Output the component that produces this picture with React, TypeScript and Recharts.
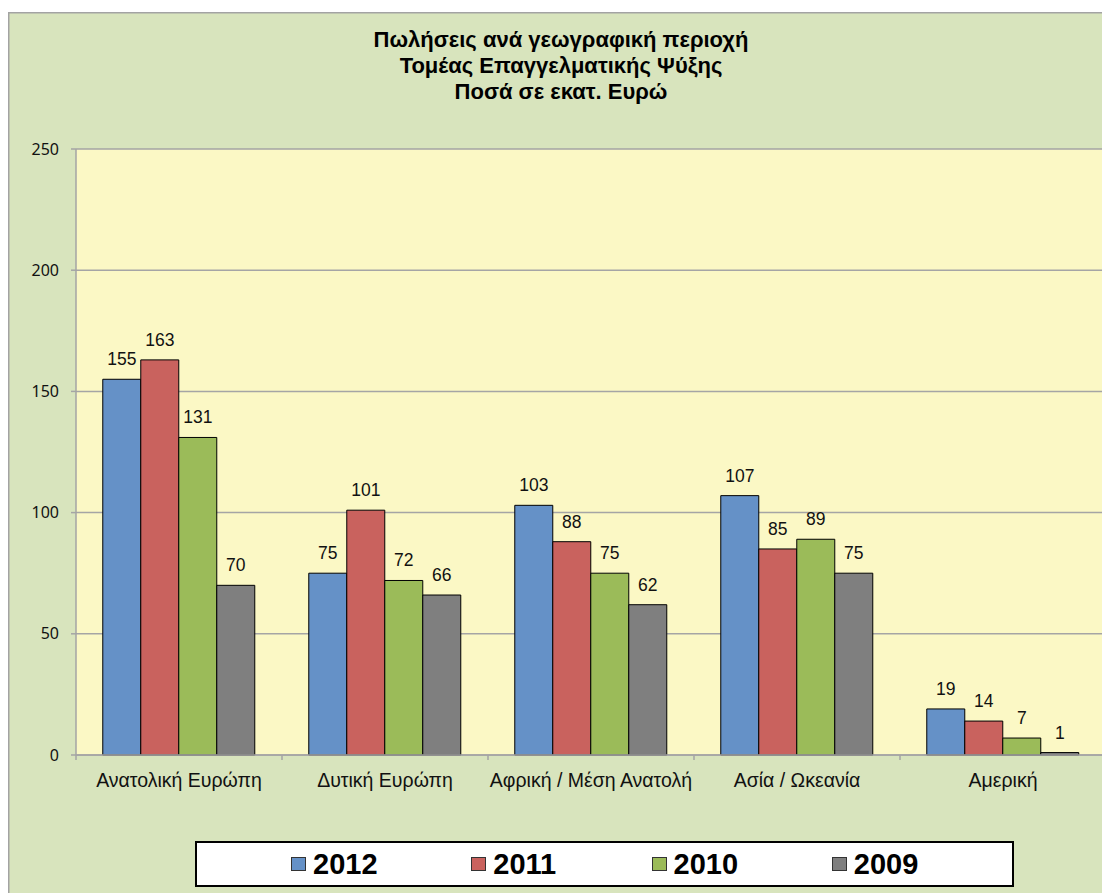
import React from 'react';
import { BarChart, Bar, XAxis, YAxis, CartesianGrid, Legend, LabelList } from 'recharts';

const titleLines = [
  'Πωλήσεις ανά γεωγραφική περιοχή',
  'Τομέας Επαγγελματικής Ψύξης',
  'Ποσά σε εκατ. Ευρώ',
];

const regions = ['Ανατολική Ευρώπη', 'Δυτική Ευρώπη', 'Αφρική / Μέση Ανατολή', 'Ασία / Ωκεανία', 'Αμερική'];
const sales2012 = [155, 75, 103, 107, 19];
const sales2011 = [163, 101, 88, 85, 14];
const sales2010 = [131, 72, 75, 89, 7];
const sales2009 = [70, 66, 62, 75, 1];
const yTicks = [0, 50, 100, 150, 200, 250];

const series = [
  { key: 'y2012', name: '2012', color: '#6591C7' },
  { key: 'y2011', name: '2011', color: '#C9625E' },
  { key: 'y2010', name: '2010', color: '#9BBB59' },
  { key: 'y2009', name: '2009', color: '#7F7F7F' },
];

const data = regions.map((region, i) => ({
  region,
  y2012: sales2012[i],
  y2011: sales2011[i],
  y2010: sales2010[i],
  y2009: sales2009[i],
}));

const gridGray = '#A5A5A5';
const arial = '"Liberation Sans", Arial, sans-serif';

const RegionTick = (props: any) => {
  const { x, y, payload, index, visibleTicksCount, width } = props;
  const half = payload.offset || width / visibleTicksCount / 2;
  return (
    <g>
      <line x1={x - half} x2={x - half} y1={y} y2={y + 5} stroke={gridGray} strokeWidth={1.5} />
      {index === visibleTicksCount - 1 && (
        <line x1={x + half} x2={x + half} y1={y} y2={y + 5} stroke={gridGray} strokeWidth={1.5} />
      )}
      <text x={x} y={y + 32} textAnchor="middle" fontSize={19.5} fontFamily={arial} fill="#111">
        {payload.value}
      </text>
    </g>
  );
};

// legend follows the series order, not the payload order recharts hands over
const LegendBox = () => (
  <div
    style={{
      width: 819,
      height: 46,
      boxSizing: 'border-box',
      border: '2px solid #000',
      background: '#fff',
      display: 'flex',
      alignItems: 'center',
      paddingLeft: 94,
    }}
  >
    {series.map((s) => (
      <div key={s.key} style={{ width: 184, display: 'flex', alignItems: 'center' }}>
        <span
          style={{
            display: 'inline-block',
            width: 15,
            height: 14,
            boxSizing: 'border-box',
            background: s.color,
            border: '1px solid #333',
            marginRight: 7,
          }}
        />
        <span style={{ fontFamily: arial, fontWeight: 'bold', fontSize: 29, color: '#000', lineHeight: '30px' }}>
          {s.name}
        </span>
      </div>
    ))}
  </div>
);

export default function App() {
  return (
    <div style={{ position: 'fixed', left: 0, top: 0, width: 1102, height: 893, overflow: 'hidden', background: '#fff' }}>
      <div
        style={{
          position: 'absolute',
          left: 8,
          top: 12,
          width: 1110,
          height: 900,
          background: '#D8E4BD',
          boxShadow: 'inset 1.5px 1.5px 0 #A3A3A3',
        }}
      >
        <BarChart
          width={1110}
          height={900}
          data={data}
          margin={{ top: 137, right: 12, bottom: 25, left: 0 }}
          barCategoryGap="13%"
          barGap={0}
          style={{ fontFamily: arial }}
        >
          <CartesianGrid vertical={false} stroke={gridGray} strokeWidth={1.5} fill="#FBF8C5" fillOpacity={1} />
          <XAxis
            dataKey="region"
            height={86}
            tickSize={0}
            tickMargin={0}
            tickLine={false}
            axisLine={{ stroke: gridGray, strokeWidth: 1.5 }}
            tick={<RegionTick />}
            interval={0}
          />
          <YAxis
            width={68}
            domain={[0, 250]}
            ticks={yTicks}
            tickSize={5}
            tickMargin={12}
            axisLine={{ stroke: gridGray, strokeWidth: 1.5 }}
            tickLine={{ stroke: gridGray, strokeWidth: 1.5 }}
            tick={{ fontSize: 16, fontFamily: '"Noto Sans", sans-serif', fill: '#111' }}
          />
          <Legend verticalAlign="bottom" content={<LegendBox />} wrapperStyle={{ left: 187, width: 819, bottom: 25 }} />
          {series.map((s) => (
            <Bar key={s.key} dataKey={s.key} name={s.name} fill={s.color} stroke="#000" strokeWidth={1} isAnimationActive={false}>
              <LabelList dataKey={s.key} position="top" offset={14} fill="#111" fontSize={17.5} fontFamily={arial} />
            </Bar>
          ))}
          {titleLines.map((line, i) => (
            <text
              key={line}
              x={553}
              y={35 + i * 26}
              textAnchor="middle"
              fontFamily={arial}
              fontWeight="bold"
              fontSize={22}
              fill="#000"
            >
              {line}
            </text>
          ))}
        </BarChart>
      </div>
    </div>
  );
}
